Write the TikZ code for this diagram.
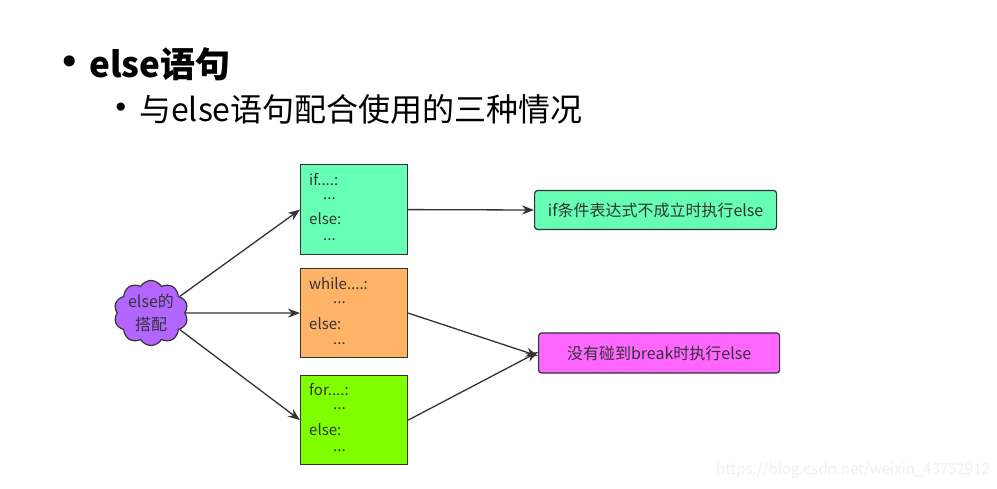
\documentclass[tikz,border=0pt]{standalone}
\usepackage{fontspec}
\newfontfamily\cjk{Noto Sans CJK SC}
\newfontfamily\dv{DejaVu Sans}
\usetikzlibrary{shapes.symbols,arrows.meta}
\definecolor{mint}{HTML}{66FFB3}
\definecolor{orng}{HTML}{FFB366}
\definecolor{lime}{HTML}{80FF00}
\definecolor{purp}{HTML}{B266FF}
\definecolor{mag}{HTML}{FF66FF}
\definecolor{ink}{HTML}{333333}
\tikzset{
  codebox/.style={draw=ink, line width=1.2pt, minimum width=107pt, minimum height=90pt, inner sep=0pt},
  codetxt/.style={anchor=west, inner sep=0pt, text=ink, font=\cjk\fontsize{15}{18}\selectfont},
  resbox/.style={draw=ink, line width=1.2pt, rounded corners=3pt, minimum height=39pt, text=ink, font=\cjk\fontsize{16}{19}\selectfont},
  conn/.style={draw=ink, line width=1.3pt, -{Stealth[length=12pt,width=9pt]}},
}
\begin{document}
\begin{tikzpicture}[x=1pt,y=-1pt]
\useasboundingbox (0,0) rectangle (997,489);
\fill[white] (0,0) rectangle (997,489);
% titles
\node[anchor=center, inner sep=0pt, font=\dv\fontsize{38}{44}\selectfont] (b1) at (70,66) {•};
\node[anchor=west, inner sep=0pt, font=\cjk\bfseries\fontsize{35}{42}\selectfont] (t1) at (89,64) {else语句};
\node[anchor=center, inner sep=0pt, font=\dv\fontsize{28}{32}\selectfont] (b2) at (121,110) {•};
\node[anchor=west, inner sep=0pt, font=\cjk\fontsize{32}{38}\selectfont] (t2) at (139,109) {与else语句配合使用的三种情况};
% cloud
\node[cloud, cloud puffs=10, cloud puff arc=120, aspect=1.15, draw=ink, line width=1.2pt, fill=purp,
      minimum width=74pt, minimum height=64pt, inner sep=0pt, align=center, text=ink,
      font=\cjk\fontsize{16}{23}\selectfont] (c) at (151,313) {else的\\搭配};
% code boxes
\node[codebox, fill=mint, anchor=north west] (ifb) at (300,164) {};
\node[codebox, fill=orng, anchor=north west, minimum height=89pt] (whb) at (300,268) {};
\node[codebox, fill=lime, anchor=north west, minimum height=89pt] (fob) at (300,375) {};
\node[codetxt] (i1) at (309,180) {if....:};
\node[codetxt] (i2) at (323,199) {...};
\node[codetxt] (i3) at (309,219) {else:};
\node[codetxt] (i4) at (323,240) {...};
\node[codetxt] (w1) at (309,284) {while....:};
\node[codetxt] (w2) at (333,303) {...};
\node[codetxt] (w3) at (309,324) {else:};
\node[codetxt] (w4) at (333,344) {...};
\node[codetxt] (f1) at (309,390) {for....:};
\node[codetxt] (f2) at (333,409) {...};
\node[codetxt] (f3) at (309,430) {else:};
\node[codetxt] (f4) at (333,451) {...};
% result boxes
\node[resbox, fill=mint, minimum width=242pt, anchor=west] (r1) at (534,210) {if条件表达式不成立时执行else};
\node[resbox, fill=mag, minimum width=241pt, minimum height=40pt, anchor=west] (r2) at (538,353) {没有碰到break时执行else};
% connectors
\draw[conn] (c.30) -- (ifb.west);
\draw[conn] (c.east) -- (whb.west);
\draw[conn] (c.-30) -- (fob.west);
\draw[conn] (ifb.east) -- (r1.west);
\draw[conn] (whb.east) -- ([yshift=-3pt]r2.west);
\draw[conn] (fob.east) -- ([yshift=1pt]r2.west);
% watermark
\node[anchor=west, inner sep=0pt, text=black!6, font=\cjk\fontsize{15}{18}\selectfont] (wm) at (716,470) {https://blog.csdn.net/weixin\_43752912};
\end{tikzpicture}
\end{document}
